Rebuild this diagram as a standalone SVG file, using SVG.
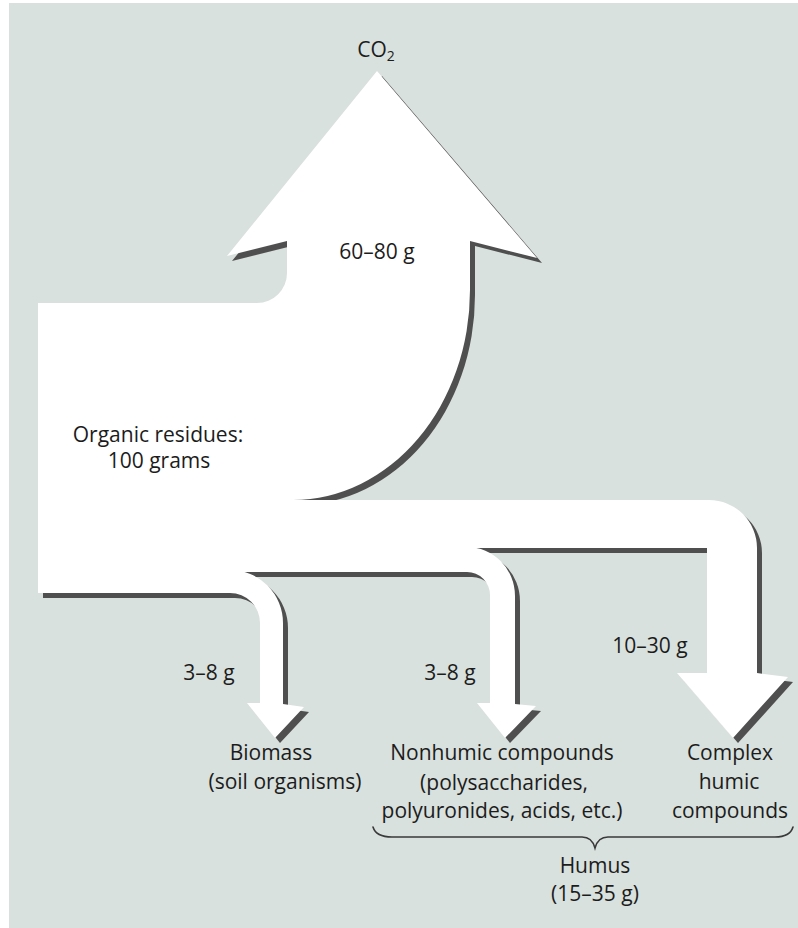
<svg xmlns="http://www.w3.org/2000/svg" xmlns:xlink="http://www.w3.org/1999/xlink" width="798" height="928" viewBox="0 0 798 928">
<style>
.lbl{font-family:"Open Sans","Liberation Sans",sans-serif;font-size:21px;fill:#1c1c1c;text-anchor:middle}
.sub{font-size:14px}
.shadow{fill:#4f4f4f}
.flow{fill:#ffffff}
.brace{fill:none;stroke:#3a3a3a;stroke-width:1.6;stroke-linecap:round}
</style>
<defs>
<path id="p-main" d="M 38 303 L 257 303 A 30 30 0 0 0 287 273 L 287 241 L 227 256 L 377 71 L 537 258 L 470 241 L 470 290 A 177 210 0 0 1 293 500 L 293 572 L 230 572 L 230 593 L 38 593 Z"/>
<path id="p-big" d="M 288 500 L 709 500 A 48 48 0 0 1 757 548 L 757 673 L 788 677 L 733 738 L 677 673 L 707 673 L 707 548 L 288 548 Z"/>
<path id="p-mid" d="M 288 547 L 467 547 A 48 49 0 0 1 515 596 L 515 704 L 536 706 L 505 738 L 477 703 L 490 703 L 490 595 A 23 23 0 0 0 467 572 L 288 572 Z"/>
<path id="p-bio" d="M 230 570 A 53 53 0 0 1 283 623 L 283 704 L 304 707 L 275 738 L 247 703 L 260 703 L 260 623 A 30 30 0 0 0 230 593 Z"/>
</defs>
<rect x="0" y="0" width="798" height="928" fill="#ffffff"/>
<rect x="9" y="3" width="789" height="925" fill="#d8e1dd"/>
<g id="connectors">
<g class="shadow" transform="translate(5,5)">
<use xlink:href="#p-main"/>
<use xlink:href="#p-big"/>
<use xlink:href="#p-mid"/>
<use xlink:href="#p-bio"/>
</g>
<g class="flow">
<use xlink:href="#p-main"/>
<use xlink:href="#p-big"/>
<use xlink:href="#p-mid"/>
<use xlink:href="#p-bio"/>
</g>
</g>
<g id="node-co2">
<text class="lbl" x="376" y="57">CO<tspan class="sub" dy="4">2</tspan></text>
</g>
<g id="node-residues">
<text class="lbl" x="158" y="442">Organic residues:</text>
<text class="lbl" x="159" y="468">100 grams</text>
</g>
<g id="label-co2-flow">
<text class="lbl" x="377" y="259">60–80 g</text>
</g>
<g id="label-biomass-flow">
<text class="lbl" x="209" y="680">3–8 g</text>
</g>
<g id="label-nonhumic-flow">
<text class="lbl" x="450" y="680">3–8 g</text>
</g>
<g id="label-complex-flow">
<text class="lbl" x="650" y="653">10–30 g</text>
</g>
<g id="node-biomass">
<text class="lbl" x="271" y="760">Biomass</text>
<text class="lbl" x="285" y="789">(soil organisms)</text>
</g>
<g id="node-nonhumic">
<text class="lbl" x="502" y="760">Nonhumic compounds</text>
<text class="lbl" x="504" y="790">(polysaccharides,</text>
<text class="lbl" x="502" y="818">polyuronides, acids, etc.)</text>
</g>
<g id="node-complex">
<text class="lbl" x="730" y="760">Complex</text>
<text class="lbl" x="729" y="789">humic</text>
<text class="lbl" x="730" y="818">compounds</text>
</g>
<g id="node-humus">
<path class="brace" d="M 373 827 Q 376 837 392 837 L 582 837 Q 592 837 595 848 Q 598 837 608 837 L 775 837 Q 790 837 793 827"/>
<text class="lbl" x="595" y="873">Humus</text>
<text class="lbl" x="595" y="901">(15–35 g)</text>
</g>
</svg>
